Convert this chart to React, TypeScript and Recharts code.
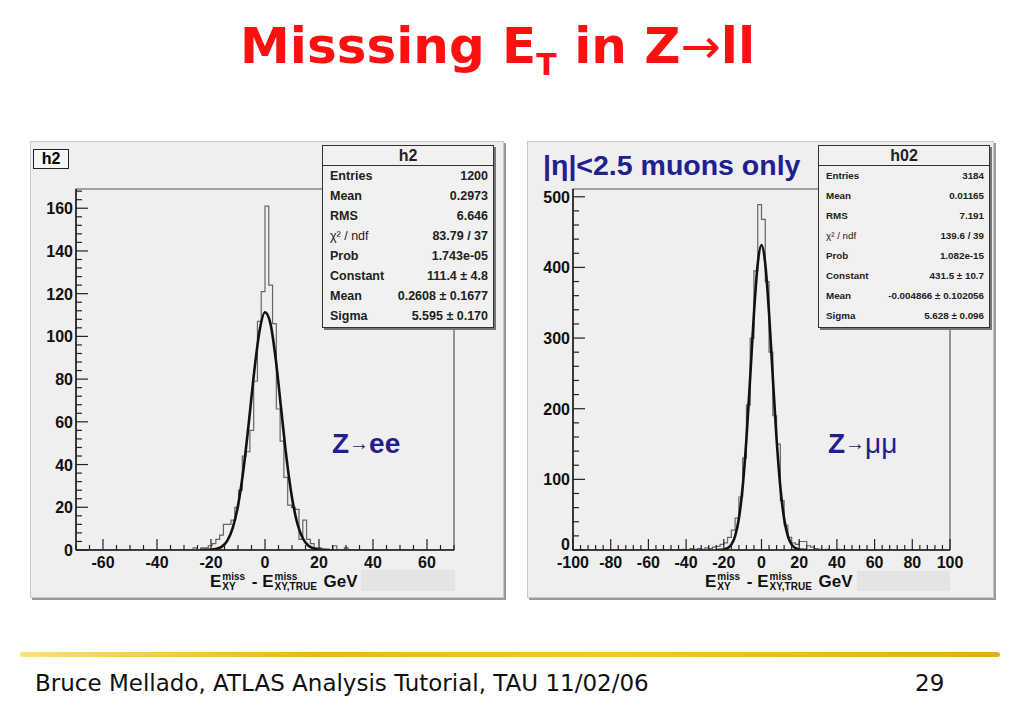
import { Line, LineChart, ReferenceArea, XAxis, YAxis } from "recharts";

// h2 : Z->ee, 100 bins on [-70, 70]
const eeBinWidth = 1.4;
const eeFirstEdge = -26.6;
const eeCounts = [1, 0, 1, 1, 2, 3, 5, 7, 12, 12, 14, 20, 28, 44, 46, 56, 79, 107, 121, 161, 124, 106, 66, 51, 34, 21, 20, 19, 5, 14, 5, 3, 1, 1, 0, 0, 0, 2, 0, 0, 1];

// h02 : Z->mumu, 100 bins on [-100, 100]
const mmBinWidth = 2;
const mmFirstEdge = -42;
const mmCounts = [1, 0, 2, 1, 2, 1, 3, 2, 4, 5, 8, 10, 18, 28, 45, 75, 130, 205, 300, 395, 489, 468, 380, 280, 190, 150, 70, 35, 18, 10, 8, 12, 12, 6, 4, 2, 1, 0, 1, 0, 0, 1];

// gaussian fit curves
const fitX = [-24, -22, -20, -18, -16, -14, -12, -10, -8, -6, -4, -2, 0, 2, 4, 6, 8, 10, 12, 14, 16, 18, 20, 22, 24];
const eeFit = [0.01, 0.04, 0.16, 0.54, 1.6, 4.3, 10.1, 20.7, 37.5, 59.6, 83.4, 102.7, 111.3, 106.1, 89.1, 65.8, 42.8, 24.5, 12.3, 5.5, 2.1, 0.73, 0.22, 0.06, 0.02];
const mmFit = [0.05, 0.2, 0.8, 2.6, 7.6, 19.6, 44.5, 89.0, 157.1, 244.4, 335.2, 405.1, 431.5, 405.1, 335.2, 244.4, 157.1, 89.0, 44.5, 19.6, 7.6, 2.6, 0.8, 0.2, 0.05];

const eeXMajor = [-60, -40, -20, 0, 20, 40, 60];
const eeYMajor = [0, 20, 40, 60, 80, 100, 120, 140, 160];
const mmXMajor = [-100, -80, -60, -40, -20, 0, 20, 40, 60, 80, 100];
const mmYMajor = [0, 100, 200, 300, 400, 500];

const eeStats = [
  ["Entries", "1200"],
  ["Mean", "0.2973"],
  ["RMS", "6.646"],
  ["χ² / ndf", "83.79 / 37"],
  ["Prob", "1.743e-05"],
  ["Constant", "111.4 ± 4.8"],
  ["Mean", "0.2608 ± 0.1677"],
  ["Sigma", "5.595 ± 0.170"],
];
const mmStats = [
  ["Entries", "3184"],
  ["Mean", "0.01165"],
  ["RMS", "7.191"],
  ["χ² / ndf", "139.6 / 39"],
  ["Prob", "1.082e-15"],
  ["Constant", "431.5 ± 10.7"],
  ["Mean", "-0.004866 ± 0.102056"],
  ["Sigma", "5.628 ± 0.096"],
];

const BLUE = "#202090";
const AXIS_FONT = "'Liberation Sans', Arial, sans-serif";
const SLIDE_FONT = "'Comic Sans MS', 'DejaVu Sans', sans-serif";

function histRows(first: number, width: number, counts: number[], lo: number, hi: number) {
  const rows = [{ x: lo, y: 0 }];
  counts.forEach((c, i) => rows.push({ x: first + i * width, y: c }));
  const last = first + counts.length * width;
  rows.push({ x: last, y: 0 });
  rows.push({ x: hi, y: 0 });
  return rows;
}

function minorTicks(lo: number, hi: number, step: number) {
  const out: number[] = [];
  for (let v = lo; v <= hi + 1e-9; v += step) out.push(Math.round(v * 100) / 100);
  return out;
}

function XTick(props: any) {
  const { x, y, payload, majors } = props;
  const major = majors.includes(payload.value);
  return (
    <g>
      <line x1={x} x2={x} y1={y} y2={y - (major ? 11 : 5)} stroke="#222" strokeWidth={1.2} />
      {major && (
        <text x={x} y={y + 18} textAnchor="middle" fontFamily={AXIS_FONT} fontWeight="bold" fontSize={16} fill="#111">
          {payload.value}
        </text>
      )}
    </g>
  );
}

function YTick(props: any) {
  const { x, y, payload, majors, zeroLift } = props;
  const major = majors.includes(payload.value);
  const lift = payload.value === 0 ? zeroLift : 0;
  return (
    <g>
      <line x1={x} x2={x + (major ? 12 : 6)} y1={y} y2={y} stroke="#222" strokeWidth={1.2} />
      {major && (
        <text x={x - 3} y={y + 6 - lift} textAnchor="end" fontFamily={AXIS_FONT} fontWeight="bold" fontSize={16} fill="#111">
          {payload.value}
        </text>
      )}
    </g>
  );
}

function Panel(props: any) {
  const { left, width, xDomain, yDomain, xMajor, yMajor, xMinor, yMinor, hist, fit, marginRight, zeroLift } = props;
  return (
    <div style={{ position: "absolute", left, top: 141 }}>
      <LineChart width={width} height={456} margin={{ top: 48, right: marginRight, bottom: 17, left: 0 }}>
        <XAxis
          type="number"
          dataKey="x"
          domain={xDomain}
          allowDataOverflow
          ticks={minorTicks(xDomain[0], xDomain[1], xMinor)}
          interval={0}
          tickSize={0}
          tickMargin={0}
          tickLine={false}
          height={30}
          axisLine={{ stroke: "#222", strokeWidth: 1.6 }}
          tick={(p: any) => <XTick {...p} majors={xMajor} />}
        />
        <YAxis
          type="number"
          dataKey="y"
          domain={yDomain}
          allowDataOverflow
          ticks={minorTicks(0, yDomain[1], yMinor)}
          interval={0}
          tickSize={0}
          tickMargin={0}
          tickLine={false}
          width={46}
          axisLine={{ stroke: "#222", strokeWidth: 1.6 }}
          tick={(p: any) => <YTick {...p} majors={yMajor} zeroLift={zeroLift} />}
        />
        <ReferenceArea x1={xDomain[0]} x2={xDomain[1]} y1={yDomain[0]} y2={yDomain[1]} fill="none" stroke="#555" strokeWidth={1.2} />
        <Line data={hist} dataKey="y" type="stepAfter" stroke="#666" strokeWidth={1.2} dot={false} isAnimationActive={false} />
        <Line data={fit} dataKey="y" type="monotone" stroke="#111" strokeWidth={2.6} dot={false} isAnimationActive={false} />
      </LineChart>
    </div>
  );
}

function StatsBox(props: any) {
  const { left, title, rows, fontSize } = props;
  return (
    <div
      style={{
        position: "absolute",
        left,
        top: 145,
        width: 170,
        height: 181,
        border: "1.5px solid #333",
        background: "#f1f1f1",
        boxShadow: "2px 2px 0 #777",
        fontFamily: AXIS_FONT,
        fontWeight: "bold",
        color: "#222",
      }}
    >
      <div style={{ height: 19, borderBottom: "1.5px solid #333", textAlign: "center", fontSize: 16, lineHeight: "19px" }}>{title}</div>
      {rows.map(([k, v]: string[], i: number) => (
        <div key={i} style={{ display: "flex", justifyContent: "space-between", height: 20, lineHeight: "20px", padding: "0 5px 0 7px", fontSize, whiteSpace: "nowrap" }}>
          <span style={k.startsWith("χ") ? { fontWeight: "normal" } : undefined}>{k}</span>
          <span>{v}</span>
        </div>
      ))}
    </div>
  );
}

function AxisTitle(props: any) {
  const { left } = props;
  const stack = (sub: string) => (
    <span style={{ display: "inline-flex", flexDirection: "column", fontSize: 10, lineHeight: "10px", margin: "0 2px 0 1px" }}>
      <span>miss</span>
      <span>{sub}</span>
    </span>
  );
  return (
    <div style={{ position: "absolute", left, top: 572, display: "flex", alignItems: "center", fontFamily: AXIS_FONT, fontWeight: "bold", fontSize: 17, color: "#111", whiteSpace: "nowrap" }}>
      <span>E</span>
      {stack("XY")}
      <span>&nbsp;- E</span>
      {stack("XY,TRUE")}
      <span>&nbsp;GeV</span>
    </div>
  );
}

export default function App() {
  const eeHist = histRows(eeFirstEdge, eeBinWidth, eeCounts, -70, 70);
  const mmHist = histRows(mmFirstEdge, mmBinWidth, mmCounts, -100, 100);
  const eeCurve = fitX.map((x, i) => ({ x, y: eeFit[i] }));
  const mmCurve = fitX.map((x, i) => ({ x, y: mmFit[i] }));
  const panelStyle = {
    position: "absolute" as const,
    top: 141,
    height: 455,
    background: "#efefef",
    border: "1px solid #c8c8c8",
    boxShadow: "2px 2px 0 #9a9a9a",
  };
  return (
    <div style={{ position: "absolute", left: 0, top: 0, width: 1023, height: 708, background: "#fff", overflow: "hidden" }}>
      <div style={{ position: "absolute", left: 240, top: 17, color: "#ff1010", fontFamily: SLIDE_FONT, fontWeight: "bold", fontSize: 50, whiteSpace: "nowrap" }}>
        Misssing E<span style={{ fontSize: 30, position: "relative", top: 12 }}>T</span> in Z<span style={{ fontSize: 48, fontWeight: "normal" }}>→</span>ll
      </div>

      <div style={{ ...panelStyle, left: 30, width: 472 }} />
      <div style={{ ...panelStyle, left: 527, width: 465 }} />

      <Panel left={30} width={473} marginRight={49} xDomain={[-70, 70]} yDomain={[0, 169]} xMajor={eeXMajor} yMajor={eeYMajor} xMinor={5} yMinor={4} hist={eeHist} fit={eeCurve} zeroLift={0} />
      <Panel left={527} width={466} marginRight={43} xDomain={[-100, 100]} yDomain={[0, 511]} xMajor={mmXMajor} yMajor={mmYMajor} xMinor={4} yMinor={20} hist={mmHist} fit={mmCurve} zeroLift={6} />

      <div style={{ position: "absolute", left: 33, top: 149, width: 34, height: 18, border: "1.5px solid #222", background: "#f6f6f6", fontFamily: AXIS_FONT, fontWeight: "bold", fontSize: 16, lineHeight: "18px", textAlign: "center" }}>h2</div>
      <div style={{ position: "absolute", left: 543, top: 149, color: BLUE, fontFamily: AXIS_FONT, fontWeight: "bold", fontSize: 28.5, whiteSpace: "nowrap" }}>|η|&lt;2.5 muons only</div>

      <StatsBox left={322} title="h2" rows={eeStats} fontSize={12.5} />
      <StatsBox left={818} title="h02" rows={mmStats} fontSize={9.8} />

      <div style={{ position: "absolute", left: 332, top: 428, color: BLUE, fontFamily: AXIS_FONT, fontWeight: "bold", fontSize: 28, whiteSpace: "nowrap" }}>
        Z<span style={{ fontSize: 20, fontWeight: "normal", position: "relative", top: -3 }}>→</span>ee
      </div>
      <div style={{ position: "absolute", left: 828, top: 428, color: BLUE, fontFamily: AXIS_FONT, fontWeight: "bold", fontSize: 28, whiteSpace: "nowrap" }}>
        Z<span style={{ fontSize: 20, fontWeight: "normal", position: "relative", top: -3 }}>→</span><span style={{ fontWeight: "normal" }}>μμ</span>
      </div>

      <AxisTitle left={210} />
      <AxisTitle left={705} />
      <div style={{ position: "absolute", left: 361, top: 570, width: 94, height: 21, background: "#e4e4e4" }} />
      <div style={{ position: "absolute", left: 857, top: 571, width: 93, height: 20, background: "#e4e4e4" }} />

      <div style={{ position: "absolute", left: 20, top: 652, width: 980, height: 5, borderRadius: 3, background: "linear-gradient(to right, #f6e27a, #e8b818 30%, #f2c830 60%, #e0b010)" }} />
      <div style={{ position: "absolute", left: 35, top: 670, fontFamily: SLIDE_FONT, fontSize: 23, color: "#111", whiteSpace: "nowrap" }}>
        Bruce Mellado, ATLAS Analysis Tutorial, TAU 11/02/06
      </div>
      <div style={{ position: "absolute", left: 915, top: 670, fontFamily: SLIDE_FONT, fontSize: 23, color: "#111" }}>29</div>
    </div>
  );
}
